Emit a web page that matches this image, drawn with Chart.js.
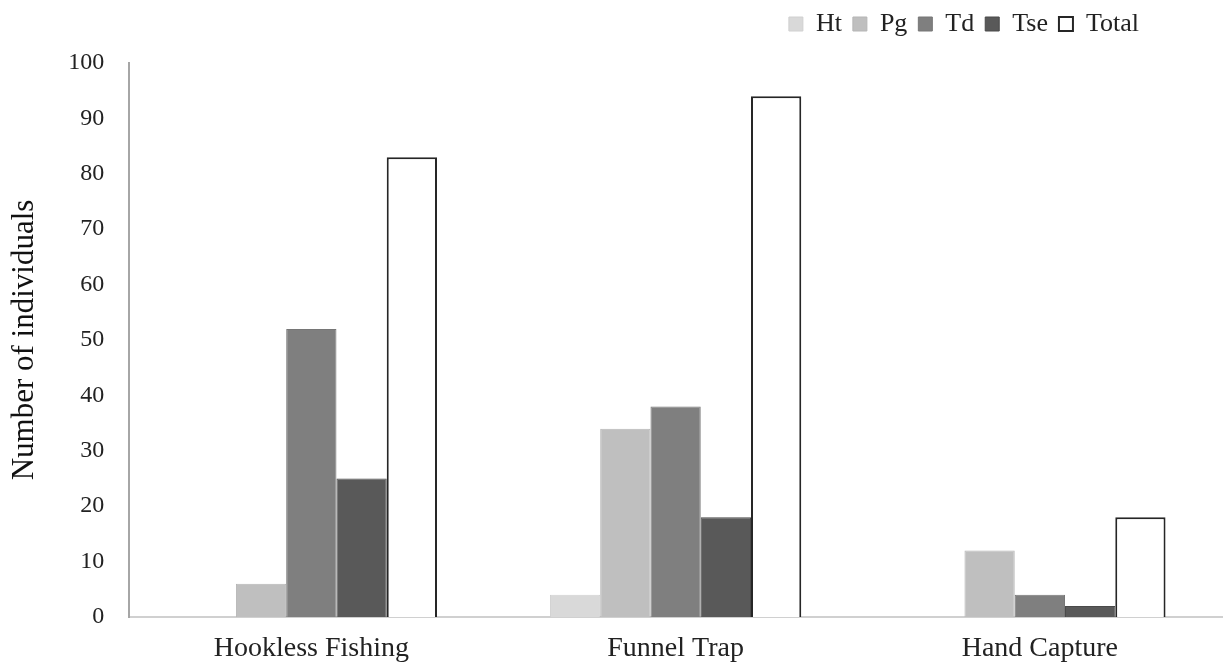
<!DOCTYPE html>
<html>
<head>
<meta charset="utf-8">
<script src="https://cdn.jsdelivr.net/npm/chart.js@4"></script>
<style>
  html, body { margin: 0; padding: 0; background: #fff; }
  #wrap { width: 1225px; height: 664px; }
</style>
</head>
<body>
<div id="wrap"><canvas id="chart" width="1225" height="664"></canvas></div>
<script>
// values
const methods = ["Hookless Fishing", "Funnel Trap", "Hand Capture"]
const species = ["Ht", "Pg", "Td", "Tse", "Total"]
const ht    = [0, 4, 0]
const pg    = [6, 34, 12]
const td    = [52, 38, 4]
const tse   = [25, 18, 2]
const total = [83, 94, 18]
const yTicks = [0, 10, 20, 30, 40, 50, 60, 70, 80, 90, 100]

const fills   = ["#d9d9d9", "#bfbfbf", "#7f7f7f", "#595959", "#ffffff"]
const borders = ["#d0d0d0", "#b5b5b5", "#767676", "#4a4a4a", "#262626"]
const widths  = [1, 1, 1, 1, 2]
const serif = "'Liberation Serif', 'Times New Roman', serif"

let allSeries = [ht, pg, td, tse, total]
let datasets = species.map((name, i) => ({
    label: name,
    data: allSeries[i],
    backgroundColor: fills[i],
    borderColor: borders[i],
    borderWidth: widths[i],
    barPercentage: 1.0,
    categoryPercentage: 0.69
}))

// extra room under the legend, and pull the legend in from the right edge
const legendTweak = {
    id: 'legendTweak',
    beforeInit(chart) {
        const fit = chart.legend.fit
        chart.legend.fit = function () {
            fit.call(this)
            this.height += 16
        }
    },
    afterLayout(chart) {
        chart.legend.right -= 72
    }
}

let ctx = document.getElementById('chart').getContext('2d')
let graph = new Chart(ctx, {
    type: 'bar',
    data: { labels: methods, datasets: datasets },
    plugins: [legendTweak],
    options: {
        responsive: false,
        animation: false,
        layout: { padding: { left: 6, right: 3, top: 0, bottom: 0 } },
        plugins: {
            tooltip: { enabled: false },
            legend: {
                position: 'top',
                align: 'end',
                labels: {
                    color: '#222',
                    font: { family: serif, size: 26 },
                    boxWidth: 14,
                    boxHeight: 14,
                    padding: 11
                }
            }
        },
        scales: {
            x: {
                afterFit: scale => { scale.height = 47 },
                grid: { display: false, drawTicks: false },
                border: { display: true, color: '#d0d0d0', width: 2 },
                ticks: { color: '#222', font: { family: serif, size: 28 }, padding: 15 }
            },
            y: {
                min: 0,
                max: 100,
                afterBuildTicks: axis => { axis.ticks = yTicks.map(v => ({ value: v })) },
                grid: { display: false, drawTicks: false },
                border: { display: true, color: '#a6a6a6', width: 2 },
                ticks: { color: '#222', font: { family: serif, size: 24 }, padding: 25 },
                title: {
                    display: true,
                    text: 'Number of individuals',
                    color: '#111',
                    font: { family: serif, size: 31 },
                    padding: { top: 0, bottom: 0 }
                }
            }
        }
    }
})
</script>
</body>
</html>
